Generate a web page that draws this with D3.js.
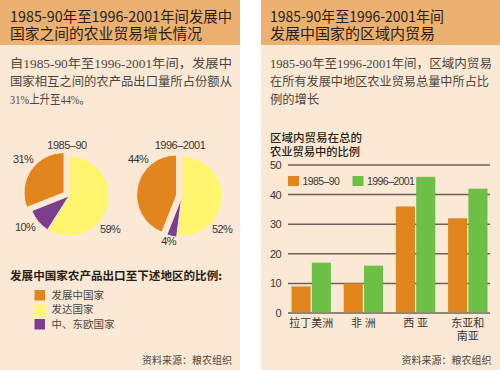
<!DOCTYPE html>
<html><head><meta charset="utf-8">
<script src="https://cdn.jsdelivr.net/npm/d3@7"></script>
<style>
html,body{margin:0;padding:0;background:#fff;}
svg{display:block;}
text{font-family:"Noto Sans CJK SC","Liberation Sans",sans-serif;}
</style></head>
<body>
<svg id="chart" width="500" height="370"></svg>
<script>
// ---------- data ----------
const pieYears = ["1985–90", "1996–2001"];
const pieCategories = ["发展中国家", "发达国家", "中、东欧国家"];
const share1985 = [31, 59, 10];
const share1996 = [44, 52, 4];
const barCategories = ["拉丁美洲", "非 洲", "西 亚", "东亚和南亚"];
const barSeries = ["1985–90", "1996–2001"];
const trade1985 = [9, 10, 36, 32];
const trade1996 = [17, 16, 46, 42];
const yTicks = [0, 10, 20, 30, 40, 50];

// ---------- styles ----------
const C = {
  panel: "#FCE9D5", header: "#ECB070", headText: "#2a1d12", body: "#4d4540",
  orange: "#E0861C", yellow: "#FFF46E", purple: "#7A3E8C", green: "#6EBF46", grid: "#6d6259"
};
const serifMix = '"Liberation Serif","Noto Sans CJK SC",serif';

const svg = d3.select("#chart");

// panels
function panel(x, w) {
  svg.append("rect").attr("x", x).attr("y", 0).attr("width", w).attr("height", 370).attr("fill", C.panel);
  svg.append("rect").attr("x", x).attr("y", 0).attr("width", w).attr("height", 45).attr("fill", C.header);
}
panel(0, 240);
panel(261, 239);

function txt(x, y, s, o = {}) {
  const t = svg.append("text").attr("x", x).attr("y", y).attr("dominant-baseline", "central")
    .attr("font-size", o.size || 12).attr("fill", o.fill || C.body).text(s);
  if (o.family) t.style("font-family", o.family);
  if (o.weight) t.attr("font-weight", o.weight);
  if (o.anchor) t.attr("text-anchor", o.anchor);
  if (o.len) t.attr("textLength", o.len).attr("lengthAdjust", "spacingAndGlyphs");
  return t;
}
// multi-line paragraph as one text element with tspans
function para(x, y0, lh, lines, o = {}) {
  const t = svg.append("text").attr("dominant-baseline", "central")
    .attr("font-size", o.size || 12).attr("fill", o.fill || C.body);
  if (o.family) t.style("font-family", o.family);
  if (o.weight) t.attr("font-weight", o.weight);
  if (o.anchor) t.attr("text-anchor", o.anchor);
  lines.forEach((l, k) => {
    const s = t.append("tspan").attr("x", x).attr("y", y0 + k * lh).text(l);
    if (o.lens && o.lens[k]) s.attr("textLength", o.lens[k]).attr("lengthAdjust", "spacingAndGlyphs");
  });
  return t;
}

// ---------- left panel text ----------
para(10, 15, 17, ["1985-90年至1996-2001年间发展中", "国家之间的农业贸易增长情况"],
  {size: 15, fill: C.headText, lens: [222, 192]});
para(10, 63.5, 18, ["自1985-90年至1996-2001年间，发展中", "国家相互之间的农产品出口量所占份额从", "31%上升至44%。"],
  {size: 12.3, family: serifMix, lens: [222, 222, 80]});

// ---------- pies ----------
const r = 40;
const arc = d3.arc().innerRadius(0).outerRadius(r);
const pieLayout = d3.pie().sort(null).value(d => d.v);
// drawing order from 12 o'clock clockwise: developed, CEE, developing
const drawOrder = [1, 2, 0];
const sliceColor = [C.orange, C.yellow, C.purple];
const pies = [
  {title: pieYears[0], vals: share1985, cx: 69, cy: 196, explode: [6, 0, 0],
   labelPos: [[-46, -37], [41, 33], [-44, 30.5]]},
  {title: pieYears[1], vals: share1996, cx: 182, cy: 196, explode: [5.5, 0, 1.5],
   labelPos: [[-44, -37], [40, 33], [-13.5, 44.5]]}
];
pies.forEach(p => {
  const data = drawOrder.map(i => ({i, v: p.vals[i]}));
  const g = svg.append("g").attr("transform", `translate(${p.cx},${p.cy})`);
  g.selectAll("path").data(pieLayout(data)).join("path")
    .attr("d", arc)
    .attr("fill", d => sliceColor[d.data.i])
    .attr("stroke", C.panel).attr("stroke-width", 1)
    .attr("transform", d => {
      const a = (d.startAngle + d.endAngle) / 2, e = p.explode[d.data.i];
      return `translate(${e * Math.sin(a)},${-e * Math.cos(a)})`;
    });
  p.vals.forEach((v, i) => {
    g.append("text").attr("x", p.labelPos[i][0]).attr("y", p.labelPos[i][1])
      .attr("text-anchor", "middle").attr("dominant-baseline", "central")
      .attr("font-size", 11).attr("fill", "#3a3430").attr("letter-spacing", -0.6)
      .style("font-family", '"Liberation Sans",sans-serif').text(v + "%");
  });
  svg.append("text").attr("x", p.cx - 2).attr("y", 145).attr("text-anchor", "middle")
    .attr("dominant-baseline", "central").attr("font-size", 11).attr("fill", "#3a3430")
    .attr("letter-spacing", -0.5).style("font-family", '"Liberation Sans",sans-serif').text(p.title);
});

// left legend
txt(10, 275, "发展中国家农产品出口至下述地区的比例:", {size: 11.5, fill: "#2a1d12", weight: 700, len: 212});
pieCategories.forEach((c, i) => {
  const y = 295 + i * 14.5;
  svg.append("rect").attr("x", 34.5).attr("y", y - 5).attr("width", 10.5).attr("height", 10.5).attr("fill", sliceColor[i]);
  txt(51.5, y, c, {size: 10.5, family: serifMix, fill: "#4d4540"});
});
txt(232, 360, "资料来源：粮农组织", {size: 10, anchor: "end", family: serifMix, fill: "#4d4540"});

// ---------- right panel text ----------
para(270, 15, 17, ["1985-90年至1996-2001年间", "发展中国家的区域内贸易"],
  {size: 15, fill: C.headText, lens: [174, 165]});
para(270, 63.5, 18, ["1985-90年至1996-2001年间，区域内贸易", "在所有发展中地区农业贸易总量中所占比", "例的增长"],
  {size: 12.3, family: serifMix, lens: [222, 219, 0]});
para(270, 137, 13.5, ["区域内贸易在总的", "农业贸易中的比例"],
  {size: 11.5, fill: "#2a1d12", weight: 500, lens: [92, 90]});

// ---------- bar chart ----------
const y = d3.scaleLinear().domain([0, 50]).range([313, 165]);
const x0 = d3.scaleBand().domain(barCategories).range([291.5, 487.5]).paddingInner(0.245).paddingOuter(0);
const x1 = d3.scaleBand().domain(barSeries).range([0, x0.bandwidth()]).paddingInner(0.06);
const barColor = d3.scaleOrdinal().domain(barSeries).range([C.orange, C.green]);

const yAxis = d3.axisLeft(y).tickValues(yTicks).tickSize(0).tickPadding(0);
const ga = svg.append("g").attr("transform", "translate(281,0)").call(yAxis);
ga.select(".domain").remove();
ga.selectAll("text").attr("font-size", 11).attr("fill", "#3a3430").attr("letter-spacing", -0.6)
  .style("font-family", '"Liberation Sans",sans-serif');

svg.append("g").selectAll("line").data(yTicks).join("line")
  .attr("x1", 288).attr("x2", 490).attr("y1", d => y(d)).attr("y2", d => y(d))
  .attr("stroke", C.grid).attr("stroke-width", 1.5);

const series = [trade1985, trade1996];
const groups = svg.append("g").selectAll("g").data(barCategories).join("g")
  .attr("transform", d => `translate(${x0(d)},0)`);
groups.selectAll("rect").data((d, ci) => barSeries.map((s, si) => ({s, v: series[si][ci]})))
  .join("rect")
  .attr("x", d => x1(d.s)).attr("width", x1.bandwidth())
  .attr("y", d => y(d.v)).attr("height", d => y(0) - y(d.v) - 0.75)
  .attr("fill", d => barColor(d.s));

// category labels
barCategories.forEach(c => {
  const cx = x0(c) + x0.bandwidth() / 2;
  const lines = c === "东亚和南亚" ? ["东亚和", "南亚"] : [c];
  para(cx, 323, 12.5, lines, {size: 11, anchor: "middle", family: serifMix, fill: "#3a3430"});
});

// right legend
barSeries.forEach((s, i) => {
  const lx = i === 0 ? 288 : 352.5;
  svg.append("rect").attr("x", lx).attr("y", 176).attr("width", 11).attr("height", 10).attr("fill", barColor(s));
  svg.append("text").attr("x", lx + 14.5).attr("y", 181).attr("dominant-baseline", "central")
    .attr("font-size", 10.5).attr("fill", "#3a3430").attr("letter-spacing", -0.6)
    .style("font-family", '"Liberation Sans",sans-serif').text(s);
});
txt(491.5, 360, "资料来源：粮农组织", {size: 10, anchor: "end", family: serifMix, fill: "#4d4540"});
</script>
</body></html>
